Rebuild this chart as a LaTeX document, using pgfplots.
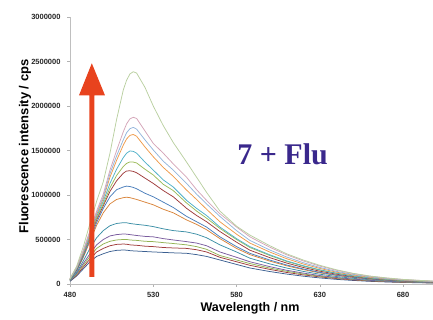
\documentclass[border=0pt]{standalone}
\usepackage{pgfplots}
\pgfplotsset{compat=1.18}
\usepackage{pgfplotstable}
\usepackage{fontspec}
\setmainfont{Liberation Sans}
\newfontfamily\timesfont{Liberation Serif}
\definecolor{c1}{HTML}{B9CFA0}
\definecolor{c2}{HTML}{D4A5B8}
\definecolor{c3}{HTML}{93B5DC}
\definecolor{c4}{HTML}{EE9A4A}
\definecolor{c5}{HTML}{4FB0C8}
\definecolor{c6}{HTML}{9BBB59}
\definecolor{c7}{HTML}{9E3B3A}
\definecolor{c8}{HTML}{4A7EBB}
\definecolor{c9}{HTML}{D9843A}
\definecolor{c10}{HTML}{3C8FA6}
\definecolor{c11}{HTML}{7A5C9E}
\definecolor{c12}{HTML}{93B354}
\definecolor{c13}{HTML}{A03C3C}
\definecolor{c14}{HTML}{3B5F91}
\definecolor{arrowred}{HTML}{E8431E}
\definecolor{titleblue}{RGB}{58,40,140}
% intensities in units of 10^6 cps
\pgfplotstableread{
wl c1 c2 c3 c4 c5 c6 c7 c8 c9 c10 c11 c12 c13 c14
480 0.06 0.06 0.06 0.06 0.05 0.05 0.05 0.05 0.05 0.04 0.04 0.04 0.035 0.03
484 0.20 0.19 0.18 0.18 0.17 0.17 0.16 0.15 0.15 0.13 0.12 0.11 0.10 0.09
488 0.42 0.38 0.37 0.36 0.35 0.34 0.33 0.31 0.30 0.26 0.23 0.21 0.19 0.17
492 0.68 0.60 0.58 0.57 0.55 0.54 0.53 0.50 0.48 0.40 0.34 0.31 0.28 0.25
496 0.93 0.82 0.80 0.78 0.76 0.74 0.72 0.69 0.66 0.52 0.44 0.40 0.36 0.31
500 1.15 1.01 0.98 0.96 0.93 0.90 0.88 0.85 0.80 0.60 0.50 0.45 0.40 0.34
504 1.47 1.28 1.24 1.20 1.13 1.08 1.04 0.98 0.90 0.655 0.54 0.48 0.43 0.365
508 1.85 1.50 1.44 1.39 1.29 1.22 1.16 1.06 0.95 0.68 0.555 0.495 0.445 0.378
512 2.18 1.71 1.62 1.56 1.42 1.32 1.245 1.09 0.97 0.689 0.562 0.50 0.449 0.382
514 2.29 1.80 1.70 1.63 1.47 1.355 1.27 1.10 0.975 0.688 0.56 0.50 0.447 0.38
516 2.36 1.855 1.745 1.67 1.495 1.372 1.272 1.095 0.97 0.68 0.555 0.495 0.44 0.375
518 2.385 1.873 1.76 1.68 1.49 1.37 1.265 1.085 0.96 0.675 0.55 0.492 0.437 0.372
520 2.37 1.86 1.74 1.66 1.47 1.36 1.25 1.07 0.95 0.67 0.545 0.49 0.435 0.37
525 2.21 1.72 1.62 1.54 1.37 1.29 1.19 1.02 0.92 0.66 0.535 0.48 0.425 0.365
530 2.00 1.58 1.506 1.43 1.28 1.225 1.13 0.98 0.89 0.645 0.53 0.476 0.42 0.36
536 1.78 1.47 1.38 1.31 1.17 1.12 1.05 0.92 0.84 0.62 0.51 0.465 0.41 0.355
542 1.59 1.35 1.28 1.21 1.09 1.05 0.98 0.86 0.80 0.60 0.495 0.455 0.405 0.35
550 1.37 1.20 1.13 1.055 0.94 0.91 0.85 0.76 0.72 0.585 0.476 0.44 0.40 0.345
556 1.20 1.06 1.01 0.95 0.85 0.82 0.77 0.70 0.67 0.56 0.46 0.42 0.385 0.33
562 1.03 0.94 0.90 0.84 0.77 0.74 0.70 0.64 0.61 0.52 0.43 0.39 0.36 0.31
570 0.82 0.79 0.76 0.70 0.64 0.625 0.59 0.53 0.51 0.44 0.36 0.32 0.30 0.27
580 0.65 0.64 0.60 0.56 0.51 0.50 0.47 0.42 0.40 0.36 0.30 0.27 0.25 0.22
588 0.55 0.53 0.49 0.46 0.42 0.41 0.38 0.345 0.33 0.29 0.25 0.23 0.21 0.18
600 0.43 0.413 0.382 0.359 0.328 0.32 0.296 0.269 0.257 0.226 0.195 0.179 0.164 0.140
610 0.34 0.329 0.304 0.285 0.26 0.254 0.236 0.214 0.205 0.18 0.155 0.143 0.130 0.112
620 0.27 0.26 0.24 0.225 0.206 0.201 0.186 0.169 0.162 0.142 0.123 0.113 0.103 0.088
630 0.21 0.201 0.186 0.175 0.160 0.156 0.144 0.131 0.125 0.110 0.095 0.087 0.080 0.068
640 0.16 0.154 0.142 0.133 0.122 0.119 0.110 0.100 0.096 0.084 0.073 0.067 0.061 0.052
650 0.12 0.117 0.108 0.101 0.092 0.090 0.084 0.076 0.073 0.064 0.055 0.051 0.046 0.040
660 0.09 0.087 0.081 0.076 0.069 0.068 0.063 0.057 0.054 0.048 0.041 0.038 0.035 0.030
670 0.069 0.066 0.061 0.058 0.053 0.051 0.048 0.043 0.041 0.036 0.031 0.029 0.026 0.023
680 0.052 0.050 0.047 0.044 0.040 0.039 0.036 0.033 0.031 0.028 0.024 0.022 0.020 0.017
690 0.041 0.040 0.037 0.035 0.032 0.031 0.029 0.026 0.025 0.022 0.019 0.017 0.016 0.014
698 0.033 0.032 0.029 0.028 0.025 0.025 0.023 0.021 0.020 0.017 0.015 0.014 0.013 0.011
}\spectra
\begin{document}
\begin{tikzpicture}
\begin{axis}[
  at={(70pt,36pt)}, anchor=south west,
  scale only axis, width=363pt, height=267pt,
  xmin=480, xmax=698, ymin=0, ymax=3000000,
  axis x line*=bottom, axis y line*=left,
  axis line style={draw=black!25, line width=0.6pt},
  xtick={480,530,580,630,680},
  ytick={0,500000,1000000,1500000,2000000,2500000,3000000},
  tick align=outside, major tick length=3pt,
  tick style={black!30, line width=0.5pt},
  scaled y ticks=false,
  /pgf/number format/assume math mode=true,
  /pgf/number format/fixed,
  /pgf/number format/1000 sep={},
  ticklabel style={font=\bfseries\fontsize{7.5}{8}\selectfont, text=black!85},
  yticklabel style={xshift=-3pt},
  xticklabel style={yshift=-2pt},
  xlabel={Wavelength / nm},
  ylabel={Fluorescence intensity / cps},
  xlabel style={font=\bfseries\fontsize{12.5}{14}\selectfont, at={(axis description cs:0.496,-0.09)}, anchor=center},
  ylabel style={font=\bfseries\fontsize{13}{15}\selectfont, at={(axis description cs:-0.124,0.515)}, anchor=center},
  every axis plot/.append style={line width=0.75pt, line join=round},
  clip=false,
]
\addplot[c14] table[x=wl, y expr=\thisrow{c14}*1000000] {\spectra};
\addplot[c13] table[x=wl, y expr=\thisrow{c13}*1000000] {\spectra};
\addplot[c12] table[x=wl, y expr=\thisrow{c12}*1000000] {\spectra};
\addplot[c11] table[x=wl, y expr=\thisrow{c11}*1000000] {\spectra};
\addplot[c10] table[x=wl, y expr=\thisrow{c10}*1000000] {\spectra};
\addplot[c9] table[x=wl, y expr=\thisrow{c9}*1000000] {\spectra};
\addplot[c8] table[x=wl, y expr=\thisrow{c8}*1000000] {\spectra};
\addplot[c7] table[x=wl, y expr=\thisrow{c7}*1000000] {\spectra};
\addplot[c6] table[x=wl, y expr=\thisrow{c6}*1000000] {\spectra};
\addplot[c5] table[x=wl, y expr=\thisrow{c5}*1000000] {\spectra};
\addplot[c4] table[x=wl, y expr=\thisrow{c4}*1000000] {\spectra};
\addplot[c3] table[x=wl, y expr=\thisrow{c3}*1000000] {\spectra};
\addplot[c2] table[x=wl, y expr=\thisrow{c2}*1000000] {\spectra};
\addplot[c1] table[x=wl, y expr=\thisrow{c1}*1000000] {\spectra};
\fill[arrowred] (axis cs:491.6,79000) -- (axis cs:494.6,79000) -- (axis cs:494.6,2120000)
  -- (axis cs:501,2120000) -- (axis cs:493.1,2480000) -- (axis cs:485.4,2120000)
  -- (axis cs:491.6,2120000) -- cycle;
\node[anchor=base west, inner sep=0pt, text=titleblue, font=\timesfont\bfseries\fontsize{30}{32}\selectfont]
  at (axis cs:580.4,1345000) {7 + Flu};
\end{axis}
\pgfresetboundingbox
\path[use as bounding box] (0,0) rectangle (433pt,320pt);
\end{tikzpicture}
\end{document}
